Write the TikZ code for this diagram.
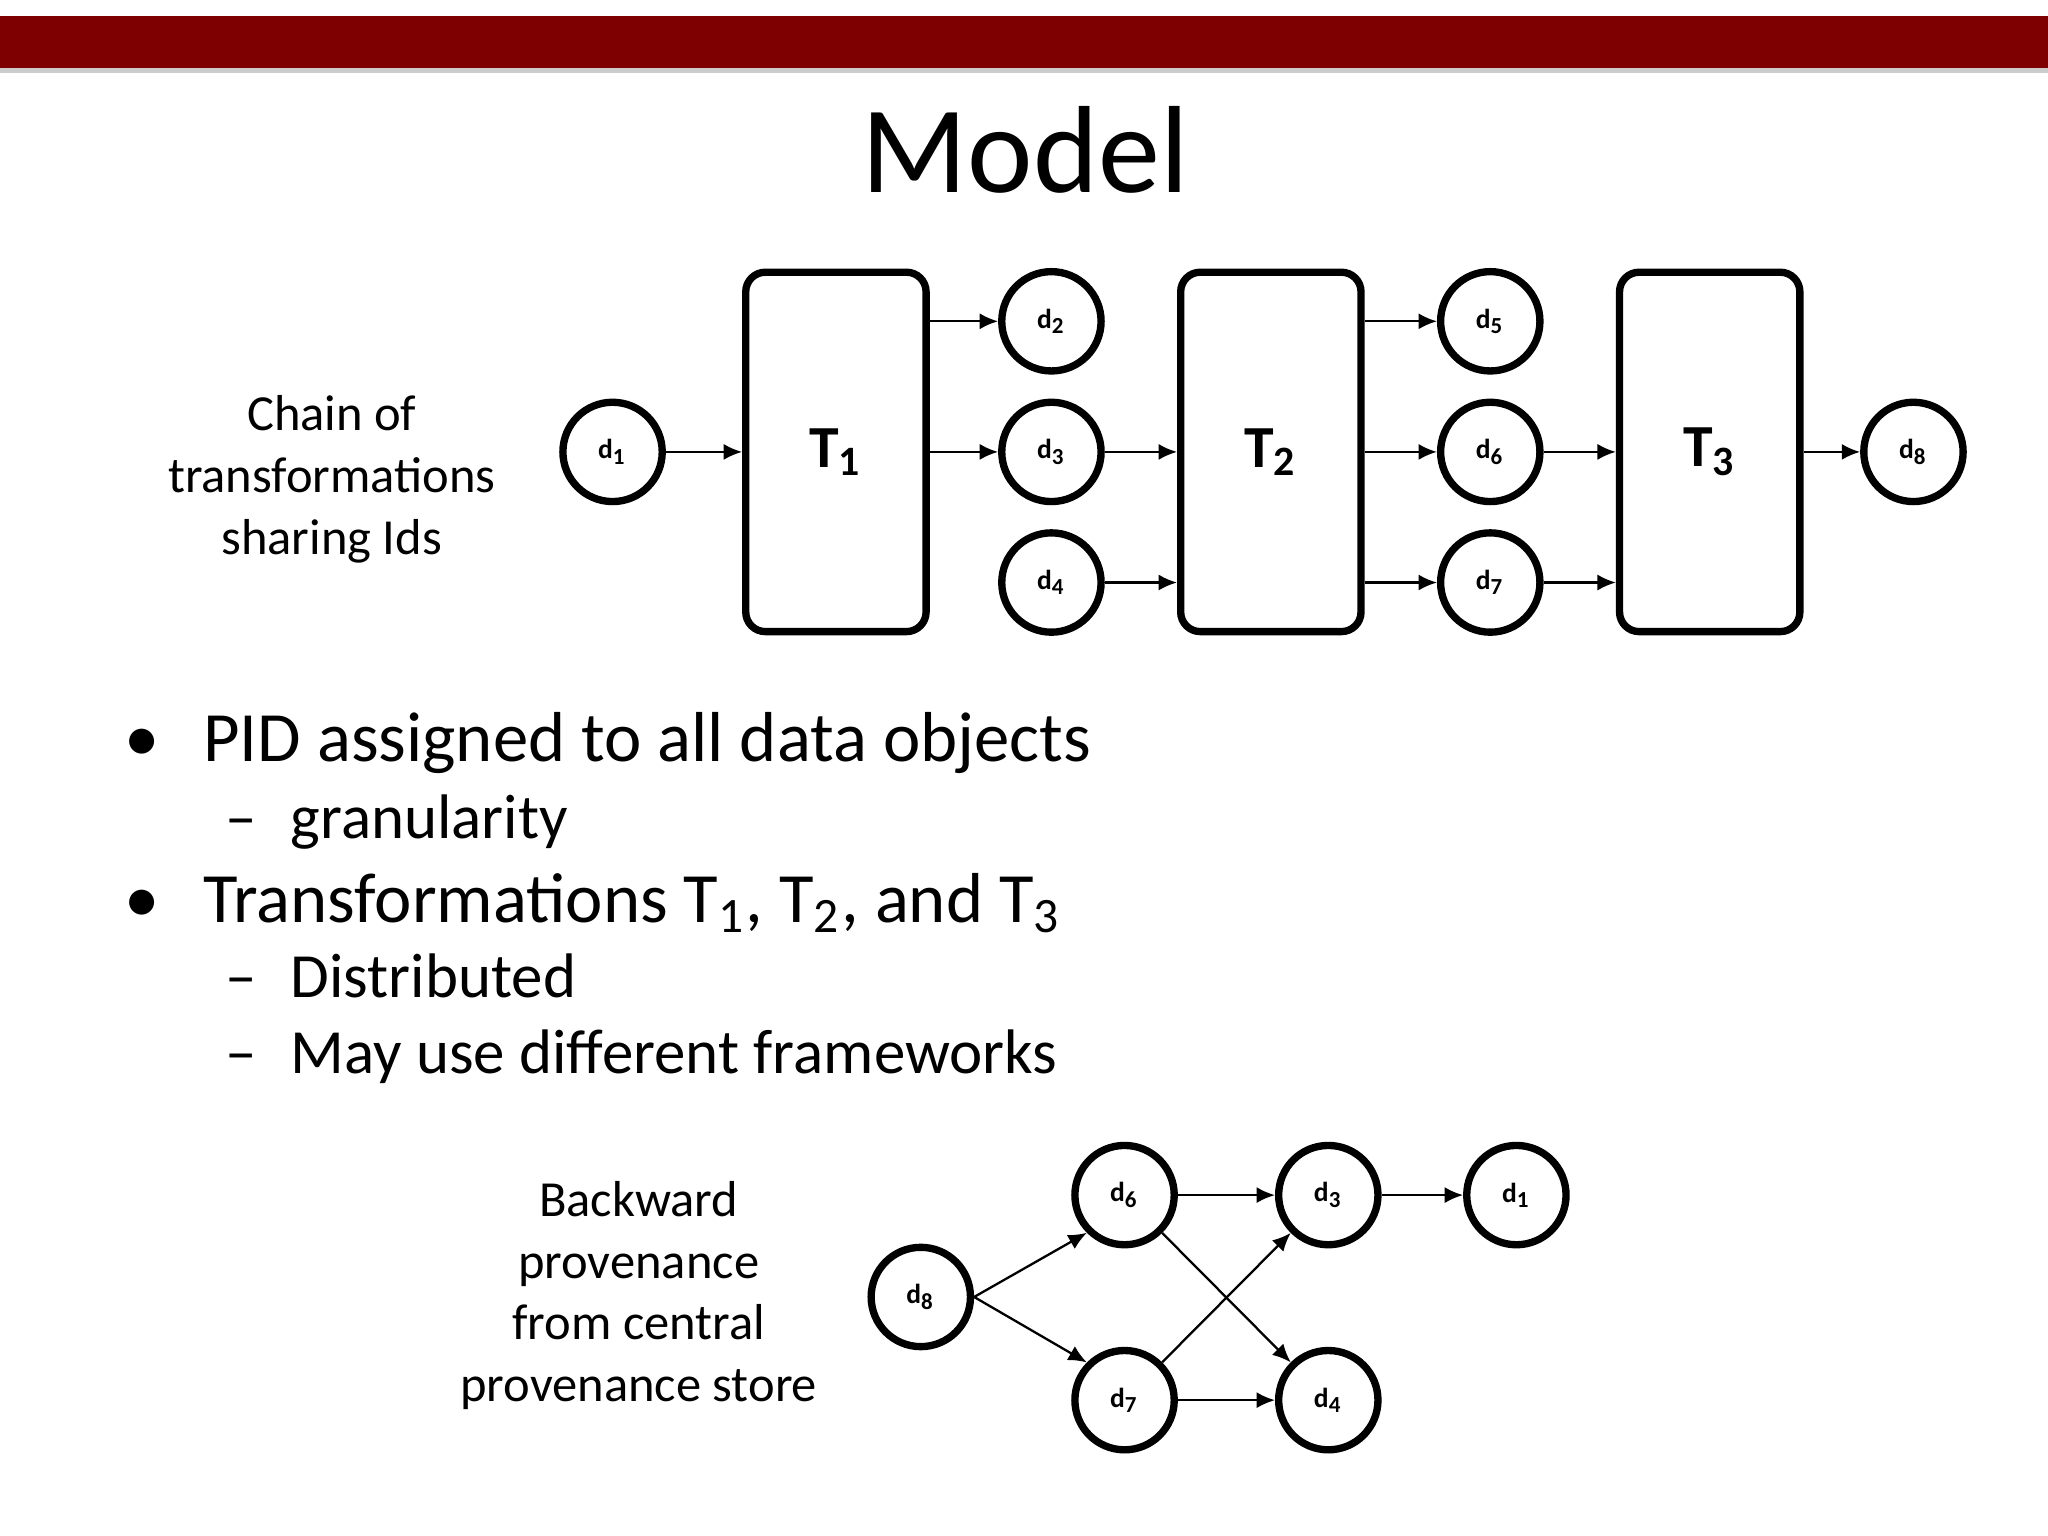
\documentclass[tikz,border=0pt]{standalone}
\usepackage{fontspec}
\setmainfont{Carlito}
\usetikzlibrary{arrows.meta}
\definecolor{barred}{HTML}{7F0000}
\tikzset{
  dnode/.style={circle, draw=black, line width=1.6pt, minimum size=0.76cm, inner sep=0pt, font=\fontsize{6}{7}\selectfont\bfseries},
  tbox/.style={draw=black, line width=1.6pt, rounded corners=0.15cm, minimum width=1.38cm, minimum height=2.75cm, font=\fontsize{13}{15}\selectfont\bfseries},
  arrow/.style={-{Latex[length=4pt,width=3.5pt]}, line width=0.5pt},
  side/.style={align=center, font=\fontsize{11}{13.4}\selectfont},
  lvlone/.style={anchor=base west, inner sep=0pt, font=\fontsize{15.4}{18}\selectfont},
  lvltwo/.style={anchor=base west, inner sep=0pt, font=\fontsize{13.7}{16}\selectfont},
}
\begin{document}
\begin{tikzpicture}[x=0.01cm, y=-0.01cm]
\useasboundingbox (0,0) rectangle (1568,1176);
% title bar
\fill[gray!40] (0,52) rectangle (1568,56);
\fill[barred] (0,12) rectangle (1568,52);
\node (title) at (785,115) {\fontsize{27}{32}\selectfont Model};

% chain of transformations
\node (chain) [side] at (254,367) {Chain of\\transformations\\sharing Ids};
\node (a1) [dnode] at (469,346) {d\textsubscript{1}};
\node (t1) [tbox] at (640,346) {T\textsubscript{1}};
\node (a2) [dnode] at (805,246) {d\textsubscript{2}};
\node (a3) [dnode] at (805,346) {d\textsubscript{3}};
\node (a4) [dnode] at (805,446) {d\textsubscript{4}};
\node (t2) [tbox] at (973,346) {T\textsubscript{2}};
\node (a5) [dnode] at (1141,246) {d\textsubscript{5}};
\node (a6) [dnode] at (1141,346) {d\textsubscript{6}};
\node (a7) [dnode] at (1141,446) {d\textsubscript{7}};
\node (t3) [tbox] at (1309,346) {T\textsubscript{3}};
\node (a8) [dnode] at (1465,346) {d\textsubscript{8}};

\draw[arrow] (a1) -- (t1);
\draw[arrow] (t1.east |- a2) -- (a2);
\draw[arrow] (t1) -- (a3);
\draw[arrow] (a3) -- (t2);
\draw[arrow] (a4) -- (t2.west |- a4);
\draw[arrow] (t2.east |- a5) -- (a5);
\draw[arrow] (t2) -- (a6);
\draw[arrow] (t2.east |- a7) -- (a7);
\draw[arrow] (a6) -- (t3);
\draw[arrow] (a7) -- (t3.west |- a7);
\draw[arrow] (t3) -- (a8);

% bullets
\node (m1) [lvlone] at (95,583) {\textbullet};
\node (b1) [lvlone] at (155,583) {PID assigned to all data objects};
\node (m1a) [lvltwo] at (172,642) {–};
\node (b1a) [lvltwo] at (222,642) {granularity};
\node (m2) [lvlone] at (95,706) {\textbullet};
\node (b2) [lvlone] at (155,706) {Transformations T\textsubscript{1}, T\textsubscript{2}, and T\textsubscript{3}};
\node (m2a) [lvltwo] at (172,764) {–};
\node (b2a) [lvltwo] at (222,764) {Distributed};
\node (m2b) [lvltwo] at (172,822) {–};
\node (b2b) [lvltwo] at (222,822) {May use different frameworks};

% backward provenance
\node (back) [side] at (489,992) {Backward\\provenance\\from central\\provenance store};
\node (p8) [dnode] at (705,993) {d\textsubscript{8}};
\node (p6) [dnode] at (861,915) {d\textsubscript{6}};
\node (p7) [dnode] at (861,1072) {d\textsubscript{7}};
\node (p3) [dnode] at (1017,915) {d\textsubscript{3}};
\node (p4) [dnode] at (1017,1072) {d\textsubscript{4}};
\node (p1) [dnode] at (1161,915) {d\textsubscript{1}};
\draw[arrow] (p8.east) -- (p6.-135);
\draw[arrow] (p8.east) -- (p7.135);
\draw[arrow] (p6) -- (p3);
\draw[arrow] (p6) -- (p4);
\draw[arrow] (p7) -- (p3);
\draw[arrow] (p7) -- (p4);
\draw[arrow] (p3) -- (p1);
\end{tikzpicture}
\end{document}
